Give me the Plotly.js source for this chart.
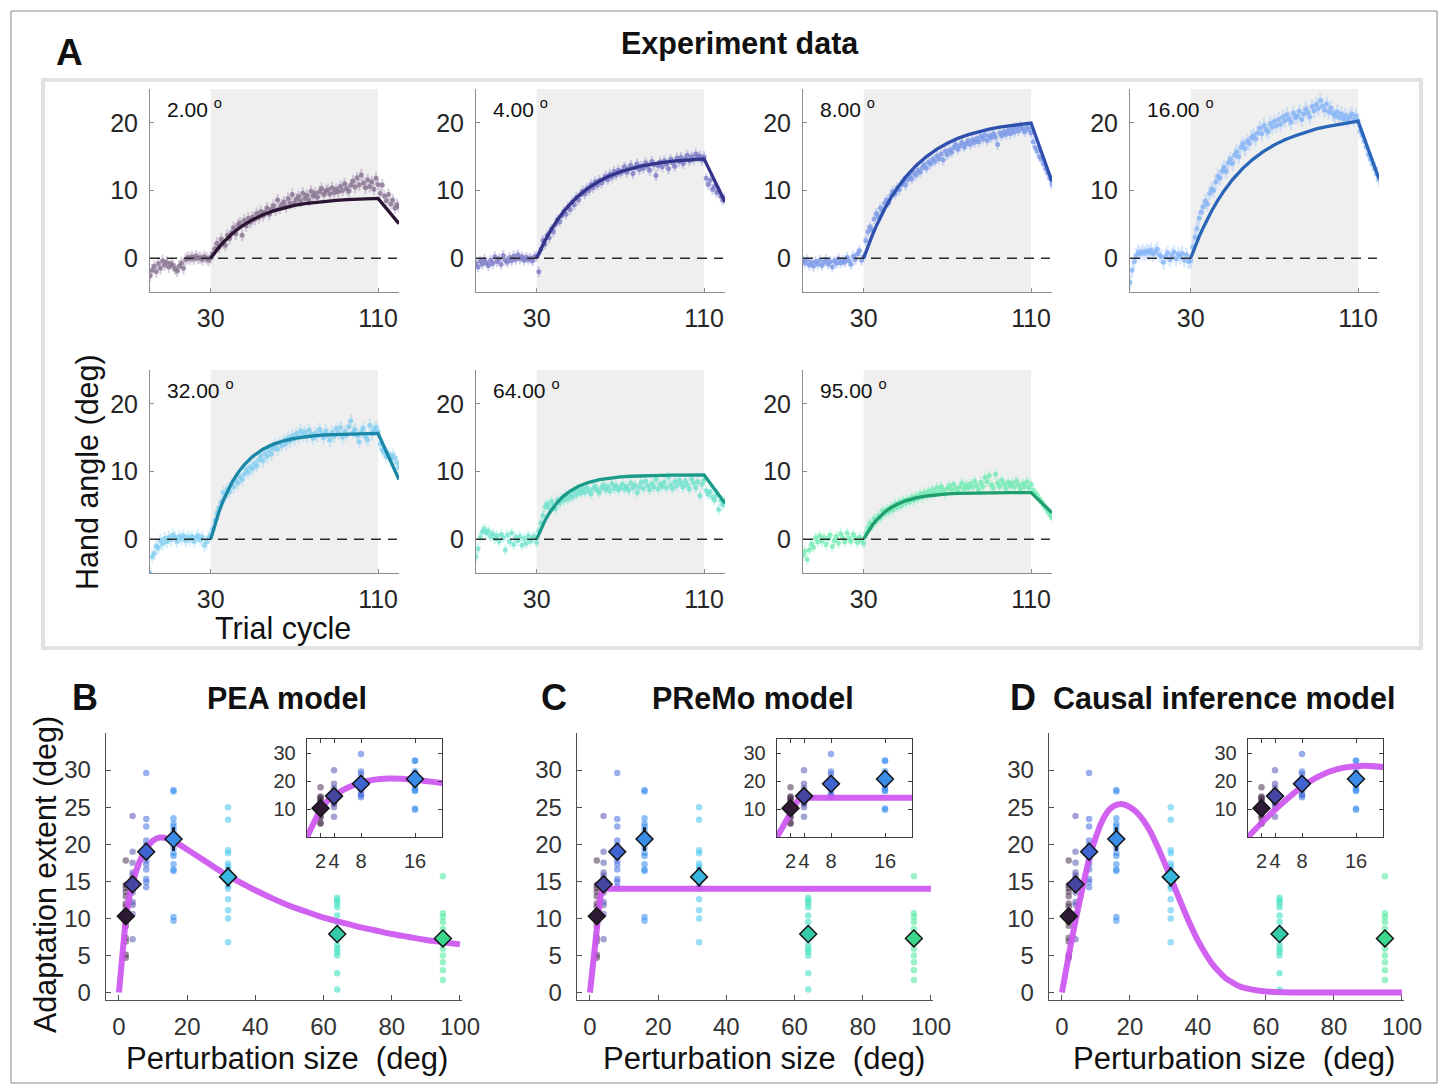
<!DOCTYPE html>
<html>
<head>
<meta charset="utf-8">
<script src="https://cdn.plot.ly/plotly-3.0.1.min.js"></script>
<style>html,body{margin:0;padding:0;background:#fff}#chart{width:1448px;height:1088px}</style>
</head>
<body>
<div id="chart"></div>
<script>
// ---------------- DATA ----------------
const cycles = Array.from({length: 120}, (_, i) => i + 1);
const pertSizes = [2, 4, 8, 16, 32, 64, 95];
const pertLabels = ['2.00', '4.00', '8.00', '16.00', '32.00', '64.00', '95.00'];

const hand2 = [
 -2.6,-1.8,-1.2,-2.0,-0.8,-1.5,-0.4,-1.0,-0.6,-1.3,
 -0.8,-1.1,-1.6,-1.9,-1.2,-0.7,-1.5,-0.2,0.1,-0.1,
 0.2,-0.1,0.3,0.0,0.1,-0.2,0.2,0.0,-0.3,0.1,
 0.6,1.4,2.2,1.6,2.8,2.3,1.9,3.4,2.9,3.8,
 4.5,3.6,4.9,5.2,3.4,5.6,4.8,5.9,5.3,6.1,
 5.7,6.6,6.0,6.9,6.3,6.8,7.4,6.5,7.2,7.8,
 7.1,8.6,7.4,7.9,8.3,7.6,8.8,8.1,9.4,8.2,
 8.7,9.1,8.4,9.6,8.8,9.3,8.6,9.9,9.2,9.6,
 9.0,9.8,10.3,9.4,9.9,10.1,9.5,10.4,9.7,10.2,
 9.8,10.6,10.0,11.0,10.3,9.9,10.8,11.4,10.5,11.9,
 10.8,12.3,11.1,10.4,11.6,10.6,11.3,10.2,11.8,10.9,
 9.6,10.8,9.2,8.5,9.4,8.0,8.6,7.4,7.9,7.6];
const hand4 = [
 -0.8,-1.3,-0.4,-0.9,-0.2,-0.7,-1.1,-0.3,-0.8,0.2,
 -0.5,-0.1,-0.9,0.4,-0.3,-0.6,0.1,-0.4,0.3,-0.2,
 0.5,-0.1,0.2,-0.3,0.1,-0.2,0.0,-0.4,0.2,0.3,
 -2.0,1.3,2.6,2.1,3.4,3.0,4.3,3.9,5.0,5.7,
 5.4,6.3,6.9,6.5,7.6,7.2,8.3,7.9,9.0,8.6,
 9.4,9.9,9.5,10.3,10.0,10.9,10.4,11.3,10.8,11.5,
 11.1,11.7,12.1,11.6,12.4,12.0,12.8,12.3,13.0,12.6,
 12.9,13.5,12.7,13.2,13.7,12.5,13.4,13.9,13.1,13.6,
 13.3,14.1,13.6,13.0,14.3,13.8,12.2,13.7,14.2,13.5,
 14.4,13.9,13.2,14.6,14.1,13.6,14.8,14.3,14.9,14.0,
 14.7,15.2,14.4,15.0,14.6,15.4,14.9,15.1,14.5,15.0,
 11.8,10.9,11.5,10.2,10.6,9.7,10.0,9.1,8.6,8.9];
const hand8 = [
 -0.4,-0.7,-0.2,-1.0,-0.6,-1.2,-0.5,-0.9,-0.3,-1.1,
 -0.6,-0.2,-0.9,-0.5,-1.3,-0.4,-0.8,-0.1,-0.7,-0.3,
 -0.6,0.1,-0.4,-0.9,0.3,-0.2,0.6,1.1,-0.3,0.2,
 2.6,3.9,4.6,4.2,5.8,6.6,6.2,7.4,7.0,8.1,
 8.6,8.2,9.3,9.9,9.5,10.4,10.1,10.9,11.3,10.8,
 11.6,12.1,11.7,12.6,12.3,13.0,12.7,13.4,13.8,13.3,
 14.2,13.9,14.6,14.3,15.1,14.7,15.4,14.5,15.8,15.3,
 16.0,15.6,16.3,16.8,16.1,16.6,17.1,16.4,16.9,17.3,
 16.8,17.5,17.1,17.7,17.2,18.0,17.6,18.2,17.4,18.1,
 17.8,18.4,17.9,16.8,18.5,18.1,18.7,18.3,18.9,18.4,
 19.0,18.6,19.3,18.8,19.5,19.1,18.7,19.4,19.0,18.5,
 17.2,16.3,15.8,15.0,14.6,13.9,13.2,12.6,11.8,10.9];
const hand16 = [
 -3.6,-1.8,-0.5,0.4,0.9,0.6,1.0,0.7,1.1,0.8,
 1.2,0.6,0.9,1.3,0.5,0.2,-0.6,0.3,0.8,-0.2,
 0.4,0.9,-0.1,0.6,0.2,0.7,-0.3,0.5,-0.5,-0.4,
 1.6,3.1,4.4,5.9,6.8,7.6,8.4,8.0,9.6,10.2,
 10.0,11.3,12.1,11.8,12.9,13.4,12.8,14.1,14.6,14.0,
 15.2,15.7,15.0,16.4,16.9,16.2,17.3,17.0,17.8,18.1,
 17.6,18.5,19.2,18.4,19.6,19.0,18.7,19.9,19.4,20.2,
 19.6,20.5,19.8,20.9,20.3,21.2,20.6,20.1,21.4,20.8,
 21.0,21.7,20.5,21.3,22.0,21.5,20.9,22.4,21.8,22.7,
 22.1,23.3,22.5,21.9,22.8,21.6,22.2,21.4,21.0,21.6,
 20.8,21.3,20.6,21.1,20.4,20.9,21.3,20.5,21.0,20.3,
 18.8,18.2,17.3,16.4,15.3,14.6,13.9,13.3,12.4,11.6];
const hand32 = [
 -5.0,-2.6,-2.1,-1.0,-1.3,-0.2,-0.7,0.1,-0.4,0.3,
 -0.1,0.6,0.2,-0.3,0.4,0.1,0.5,-0.2,0.3,0.0,
 0.4,-0.3,0.2,0.5,-0.1,0.3,-0.9,-0.4,0.2,0.6,
 1.5,2.8,3.9,4.6,5.5,6.9,6.3,7.4,7.0,8.1,
 7.7,8.6,8.3,9.2,8.8,9.6,10.3,9.9,10.7,10.4,
 11.2,10.8,11.7,12.3,11.6,12.7,12.2,13.1,12.6,13.4,
 13.9,13.3,14.2,13.8,14.6,14.1,15.0,14.5,15.3,14.8,
 15.6,15.1,16.0,15.4,15.8,15.2,16.1,15.5,14.9,15.7,
 15.3,16.2,15.6,15.0,16.0,15.4,14.6,15.8,15.2,16.3,
 15.7,16.5,15.1,15.9,15.4,16.6,17.5,15.8,16.2,15.3,
 14.4,15.9,16.4,15.1,14.7,16.8,15.6,16.2,16.5,15.9,
 14.1,13.2,12.8,12.2,12.6,11.9,12.4,12.0,11.3,10.6];
const hand64 = [
 -2.6,-1.4,0.3,1.1,1.5,0.9,1.2,0.4,0.8,0.1,
 0.5,-0.3,0.7,0.2,-1.6,0.6,-0.4,0.9,-0.8,0.3,
 -0.2,0.4,-0.9,0.1,-0.6,0.5,-0.3,0.2,0.4,-0.5,
 1.2,2.4,3.5,4.8,5.2,4.6,5.6,5.0,4.5,5.8,
 5.3,6.1,5.7,6.4,5.9,6.6,6.2,7.0,6.5,7.2,
 6.8,7.4,6.9,7.6,7.1,6.7,7.5,7.8,7.2,6.9,
 7.6,8.0,7.3,7.7,7.1,8.2,7.5,7.9,7.3,7.6,
 8.1,7.4,7.8,7.2,8.3,7.6,8.0,6.9,7.7,8.4,
 7.5,8.6,7.9,7.3,8.2,7.7,8.8,7.4,8.1,7.8,
 8.4,7.6,9.2,8.0,7.5,8.5,7.9,8.7,8.2,7.7,
 8.6,8.0,7.4,8.9,8.3,7.6,8.5,6.4,8.1,8.7,
 7.2,6.6,7.0,6.2,5.8,6.5,4.4,5.7,5.1,5.6];
const hand95 = [
 -2.4,-1.8,-3.0,-1.6,-0.7,-1.2,0.2,-0.4,0.5,-0.3,
 0.3,-0.8,0.1,0.6,-1.1,-0.2,0.4,-0.6,0.8,0.2,
 -0.4,0.9,0.1,-0.3,0.7,0.2,-0.5,0.3,-0.2,-0.6,
 0.9,1.7,2.4,1.9,3.0,2.6,3.5,3.1,4.2,3.7,
 4.4,4.0,4.8,4.3,5.2,4.7,5.5,4.9,5.8,5.3,
 5.9,5.5,6.2,5.7,6.4,6.0,6.7,6.2,6.9,6.4,
 7.1,6.6,7.3,6.8,7.6,7.0,7.8,7.2,6.7,7.5,
 7.9,7.3,8.1,7.5,7.0,7.7,8.3,7.4,8.0,7.6,
 8.2,7.7,8.6,7.9,7.3,8.4,7.8,9.1,8.5,9.4,
 8.0,7.6,9.6,8.3,7.8,8.7,8.1,7.5,8.4,7.9,
 8.3,7.7,8.6,8.0,7.4,8.2,7.8,8.5,7.6,8.1,
 7.2,6.8,6.4,5.9,5.5,5.0,4.6,4.1,3.6,3.2];
const handSem = [0.9, 0.8, 0.8, 1.1, 1.0, 0.8, 0.8];

const modelCycles = [30,32,34,36,38,40,43,46,50,55,60,65,70,75,80,85,90,95,100,105,110,120];
const model2  = [0,0.86,1.63,2.33,2.97,3.54,4.30,4.96,5.69,6.42,6.99,7.43,7.79,8.06,8.26,8.42,8.55,8.65,8.73,8.78,8.84,5.1];
const model4  = [0,1.37,2.60,3.73,4.76,5.69,6.93,8.00,9.21,10.44,11.40,12.17,12.77,13.25,13.62,13.91,14.15,14.33,14.46,14.58,14.67,8.3];
const model8  = [0,1.71,3.30,4.74,6.06,7.27,8.90,10.32,11.97,13.66,15.02,16.11,16.97,17.70,18.25,18.70,19.08,19.38,19.61,19.82,19.96,11.3];
const model16 = [0,1.62,3.14,4.51,5.80,6.97,8.57,9.98,11.61,13.31,14.68,15.81,16.74,17.49,18.10,18.65,19.10,19.45,19.75,20.00,20.25,11.7];
const model32 = [0,2.19,4.08,5.71,7.12,8.31,9.80,10.99,12.21,13.30,14.04,14.54,14.90,15.13,15.29,15.40,15.48,15.54,15.57,15.60,15.62,8.8];
const model64 = [0,1.50,2.77,3.84,4.73,5.49,6.40,7.11,7.81,8.40,8.79,9.03,9.20,9.30,9.38,9.41,9.44,9.46,9.48,9.48,9.49,5.3];
const model95 = [0,1.09,2.01,2.79,3.44,3.99,4.65,5.16,5.67,6.10,6.38,6.56,6.68,6.76,6.81,6.84,6.86,6.87,6.89,6.89,6.89,3.9];

// individual subjects (adaptation extent, deg)
const subj2  = [17.8,14.5,14.1,13.6,13.0,12.0,11.6,10.9,10.2,9.6,9.0,7.4,6.9,5.1,4.7];
const subj4  = [23.8,19.0,17.5,16.2,15.8,15.3,14.4,13.5,12.2,11.8,10.6,7.2];
const subj8  = [29.6,23.4,22.4,20.5,19.9,18.4,17.8,17.3,16.6,15.3,14.9,14.2];
const subj16 = [27.3,27.1,23.5,22.8,22.4,21.9,21.2,20.2,19.5,18.8,18.4,17.3,16.6,16.4,10.2,9.7];
const subj32 = [25.0,23.3,19.2,18.8,17.4,17.0,16.6,15.2,14.4,14.0,12.6,11.1,10.0,6.8];
const subj64 = [12.8,12.4,12.0,11.5,10.4,9.5,8.6,8.2,7.3,6.4,5.9,5.5,5.0,2.6,0.4];
const subj95 = [15.7,10.7,10.2,9.5,8.6,7.5,6.8,5.9,5.0,4.1,3.0,1.7];
const groupMeans = [10.3, 14.6, 19.0, 20.7, 15.6, 7.9, 7.3];
const groupSems  = [1.0, 1.1, 1.1, 1.6, 1.3, 1.0, 0.9];

// model predictions
const peaX = [0,0.5,1,1.5,2,3,4,5,6,8,10,12,14,16,20,25,30,35,40,45,50,55,60,65,70,75,80,85,90,95,100];
const peaY = [0,2.5,5,7.5,9.8,12.8,14.8,16.3,17.6,19.4,20.5,20.9,20.8,20.4,19.3,17.8,16.3,15.0,13.8,12.7,11.7,10.9,10.1,9.5,8.9,8.4,7.9,7.5,7.1,6.8,6.5];
const premoX = [0,1,2,3,3.5,4,100];
const premoY = [0,4.5,9,12.8,13.7,14,14];
const ciX = [0,2,4,6,8,10,12,14,16,18,20,22,24,26,28,30,32,34,36,38,40,42,44,46,48,50,52,54,56,60,65,70,80,90,100];
const ciY = [0,5.0,9.7,14.0,18.0,21.0,23.3,24.7,25.3,25.4,25.0,24.3,23.2,21.7,19.8,17.7,15.5,13.2,11.0,8.9,7.0,5.4,4.0,2.9,2.0,1.4,0.9,0.6,0.4,0.15,0.05,0.02,0,0,0];

// ---------------- STYLE ----------------
const FONT = '"Liberation Sans", Arial, Helvetica, sans-serif';
const W = 1448, H = 1088;
const fx = v => v / W, fy = v => 1 - v / H;

const lineColors = ['#2b1533','#33338a','#2f4fae','#2a66b8','#1b87a8','#1a9a88','#1f9f6e'];
const dotColors  = ['rgba(130,108,140,0.75)','rgba(115,113,194,0.72)','rgba(115,145,230,0.72)','rgba(125,175,245,0.72)','rgba(122,202,240,0.72)','rgba(102,224,202,0.72)','rgba(106,234,174,0.72)'];
const bandColors = ['rgba(150,125,160,0.35)','rgba(130,128,205,0.35)','rgba(130,160,235,0.35)','rgba(140,185,248,0.35)','rgba(140,210,242,0.35)','rgba(120,230,210,0.35)','rgba(125,238,185,0.35)'];
const subjColors = ['rgba(75,48,80,0.55)','rgba(85,85,175,0.55)','rgba(70,110,222,0.55)','rgba(55,140,240,0.55)','rgba(70,195,240,0.55)','rgba(50,222,188,0.55)','rgba(70,232,152,0.55)'];
const diamondColors = ['#2f1a35','#4545a2','#4064d2','#3b8ce6','#37b6de','#35cba9','#3cd68c'];
const MAGENTA = 'rgba(205,85,240,0.92)';

const traces = [];
const layout = {
  width: W, height: H, autosize: false,
  margin: {l: 0, r: 0, t: 0, b: 0, pad: 0},
  paper_bgcolor: '#ffffff', plot_bgcolor: 'rgba(0,0,0,0)',
  showlegend: false, hovermode: false,
  font: {family: FONT, color: '#262626'},
  shapes: [], annotations: []
};
let axN = 0;
function addAxes(xdom, ydom, xopts, yopts) {
  axN++;
  const xk = axN === 1 ? 'xaxis' : 'xaxis' + axN, yk = axN === 1 ? 'yaxis' : 'yaxis' + axN;
  const xr = axN === 1 ? 'x' : 'x' + axN, yr = axN === 1 ? 'y' : 'y' + axN;
  layout[xk] = Object.assign({domain: [fx(xdom[0]), fx(xdom[1])], anchor: yr, showgrid: false, zeroline: false, fixedrange: true, tickangle: 0}, xopts);
  layout[yk] = Object.assign({domain: [fy(ydom[1]), fy(ydom[0])], anchor: xr, showgrid: false, zeroline: false, fixedrange: true}, yopts);
  return {x: xr, y: yr};
}

// frame shapes
layout.shapes.push({type: 'rect', xref: 'paper', yref: 'paper', x0: fx(11), x1: fx(1437), y0: fy(1083), y1: fy(11), line: {color: '#8a8a8a', width: 1}, fillcolor: 'rgba(0,0,0,0)', layer: 'below'});
layout.shapes.push({type: 'rect', xref: 'paper', yref: 'paper', x0: fx(43), x1: fx(1421), y0: fy(648), y1: fy(80), line: {color: '#e2e2e2', width: 4}, fillcolor: 'rgba(0,0,0,0)', layer: 'below'});

// ---------------- PANEL A ----------------
const handData = [hand2, hand4, hand8, hand16, hand32, hand64, hand95];
const modelData = [model2, model4, model8, model16, model32, model64, model95];
const aLefts = [150, 476, 803, 1130, 150, 476, 803];
const aTops = [89, 89, 89, 89, 370, 370, 370];
const aBase = {showline: true, linecolor: '#8c8c8c', linewidth: 1, ticks: 'inside', ticklen: 4, tickwidth: 1, tickcolor: '#8c8c8c', tickfont: {family: FONT, size: 25, color: '#262626'}};
for (let i = 0; i < 7; i++) {
  const left = aLefts[i], top = aTops[i];
  const ax = addAxes([left, left + 249], [top, top + 203],
    Object.assign({}, aBase, {range: [1, 120], tickmode: 'array', tickvals: [30, 110], ticklabelstandoff: 4}),
    Object.assign({}, aBase, {range: [-5, 25], tickmode: 'array', tickvals: [0, 10, 20], ticklabelstandoff: 6}));
  layout.shapes.push({type: 'rect', xref: ax.x, yref: ax.y + ' domain', x0: 30, x1: 110, y0: 0, y1: 1, fillcolor: '#efefef', line: {width: 0}, layer: 'below'});
  layout.shapes.push({type: 'line', xref: ax.x, yref: ax.y, x0: 1, x1: 119, y0: 0, y1: 0, line: {color: '#2a2a2a', width: 1.5, dash: '10px,7px'}, layer: 'above'});
  traces.push({type: 'scatter', mode: 'markers', x: cycles, y: handData[i], xaxis: ax.x, yaxis: ax.y,
    marker: {size: 5, color: dotColors[i]},
    error_y: {type: 'constant', value: handSem[i], color: bandColors[i], thickness: 2.2, width: 0}});
  traces.push({type: 'scatter', mode: 'lines', x: modelCycles, y: modelData[i], xaxis: ax.x, yaxis: ax.y,
    line: {color: lineColors[i], width: 3.3}});
  layout.annotations.push({xref: ax.x + ' domain', yref: ax.y + ' domain', x: 0.062, y: 0.905, xanchor: 'left', yanchor: 'middle',
    text: pertLabels[i] + ' <sup>o</sup>', showarrow: false, font: {family: FONT, size: 21, color: '#111'}});
}

// ---------------- PANELS B, C, D ----------------
const subjGroups = [subj2, subj4, subj8, subj16, subj32, subj64, subj95];
const subjX = [], subjY = [], subjC = [];
subjGroups.forEach((g, k) => g.forEach(v => { subjX.push(pertSizes[k]); subjY.push(v); subjC.push(subjColors[k]); }));

const mainX = [[106, 462], [577, 933], [1049, 1404]];
const insetX = [[307, 442], [777, 912], [1248, 1383]];
const curves = [[peaX, peaY, 'spline'], [premoX, premoY, 'linear'], [ciX, ciY, 'spline']];
const mainBase = {showline: true, linecolor: '#505050', linewidth: 1.3, ticks: 'inside', ticklen: 5, tickwidth: 1, tickcolor: '#505050', tickfont: {family: FONT, size: 24, color: '#333'}};
const insetBase = {showline: true, mirror: 'ticks', linecolor: '#3c3c3c', linewidth: 1.3, ticks: 'inside', ticklen: 4, tickwidth: 1, tickcolor: '#3c3c3c', tickfont: {family: FONT, size: 20, color: '#333'}};

function addModelPanel(ax, c) {
  traces.push({type: 'scatter', mode: 'markers', x: subjX, y: subjY, xaxis: ax.x, yaxis: ax.y,
    marker: {size: 6.5, color: subjC}});
  traces.push({type: 'scatter', mode: 'lines', x: c[0], y: c[1], xaxis: ax.x, yaxis: ax.y,
    line: {color: MAGENTA, width: 6, shape: c[2], smoothing: 0.8}});
  traces.push({type: 'scatter', mode: 'markers', x: pertSizes, y: groupMeans, xaxis: ax.x, yaxis: ax.y,
    marker: {symbol: 'diamond', size: 13, color: diamondColors, line: {color: '#151515', width: 1.5}},
    error_y: {type: 'data', array: groupSems, color: '#1e1e3a', thickness: 3, width: 0}});
}
for (let p = 0; p < 3; p++) {
  const axMain = addAxes(mainX[p], [733, 1000],
    Object.assign({}, mainBase, {range: [-3.8, 100.6], tickmode: 'array', tickvals: [0, 20, 40, 60, 80, 100], ticklabelstandoff: 5}),
    Object.assign({}, mainBase, {range: [-1, 35], tickmode: 'array', tickvals: [0, 5, 10, 15, 20, 25, 30], ticklabelstandoff: 9}));
  addModelPanel(axMain, curves[p]);
  const axIn = addAxes(insetX[p], [739, 837],
    Object.assign({}, insetBase, {range: [0, 20], tickmode: 'array', tickvals: [2, 4, 8, 16], ticklabelstandoff: 6}),
    Object.assign({}, insetBase, {range: [0, 35], tickmode: 'array', tickvals: [10, 20, 30], ticklabelstandoff: 6}));
  addModelPanel(axIn, curves[p]);
}

// ---------------- TEXT ----------------
function txt(x, y, text, size, opts) {
  layout.annotations.push(Object.assign({xref: 'paper', yref: 'paper', x: fx(x), y: fy(y), text: text, showarrow: false,
    xanchor: 'center', yanchor: 'middle', font: {family: FONT, size: size, color: '#111'}}, opts || {}));
}
txt(69, 52, '<b>A</b>', 37);
txt(740, 44, '<b>Experiment data</b>', 30.5);
txt(87, 472, 'Hand angle (deg)', 30.5, {textangle: -90});
txt(283, 628, 'Trial cycle', 30.5);

txt(85, 697, '<b>B</b>', 36);
txt(554, 697, '<b>C</b>', 36);
txt(1023, 697, '<b>D</b>', 36);
txt(287, 698, '<b>PEA model</b>', 30.5);
txt(753, 698, '<b>PReMo model</b>', 30.5);
txt(1224, 698, '<b>Causal inference model</b>', 30.5);
txt(45, 875, 'Adaptation extent (deg)', 30.5, {textangle: -90});
txt(287, 1058, 'Perturbation size\u00a0 (deg)', 31);
txt(764, 1058, 'Perturbation size\u00a0 (deg)', 31);
txt(1234, 1058, 'Perturbation size\u00a0 (deg)', 31);

Plotly.newPlot('chart', traces, layout, {displayModeBar: false, staticPlot: true});
</script>
</body>
</html>
